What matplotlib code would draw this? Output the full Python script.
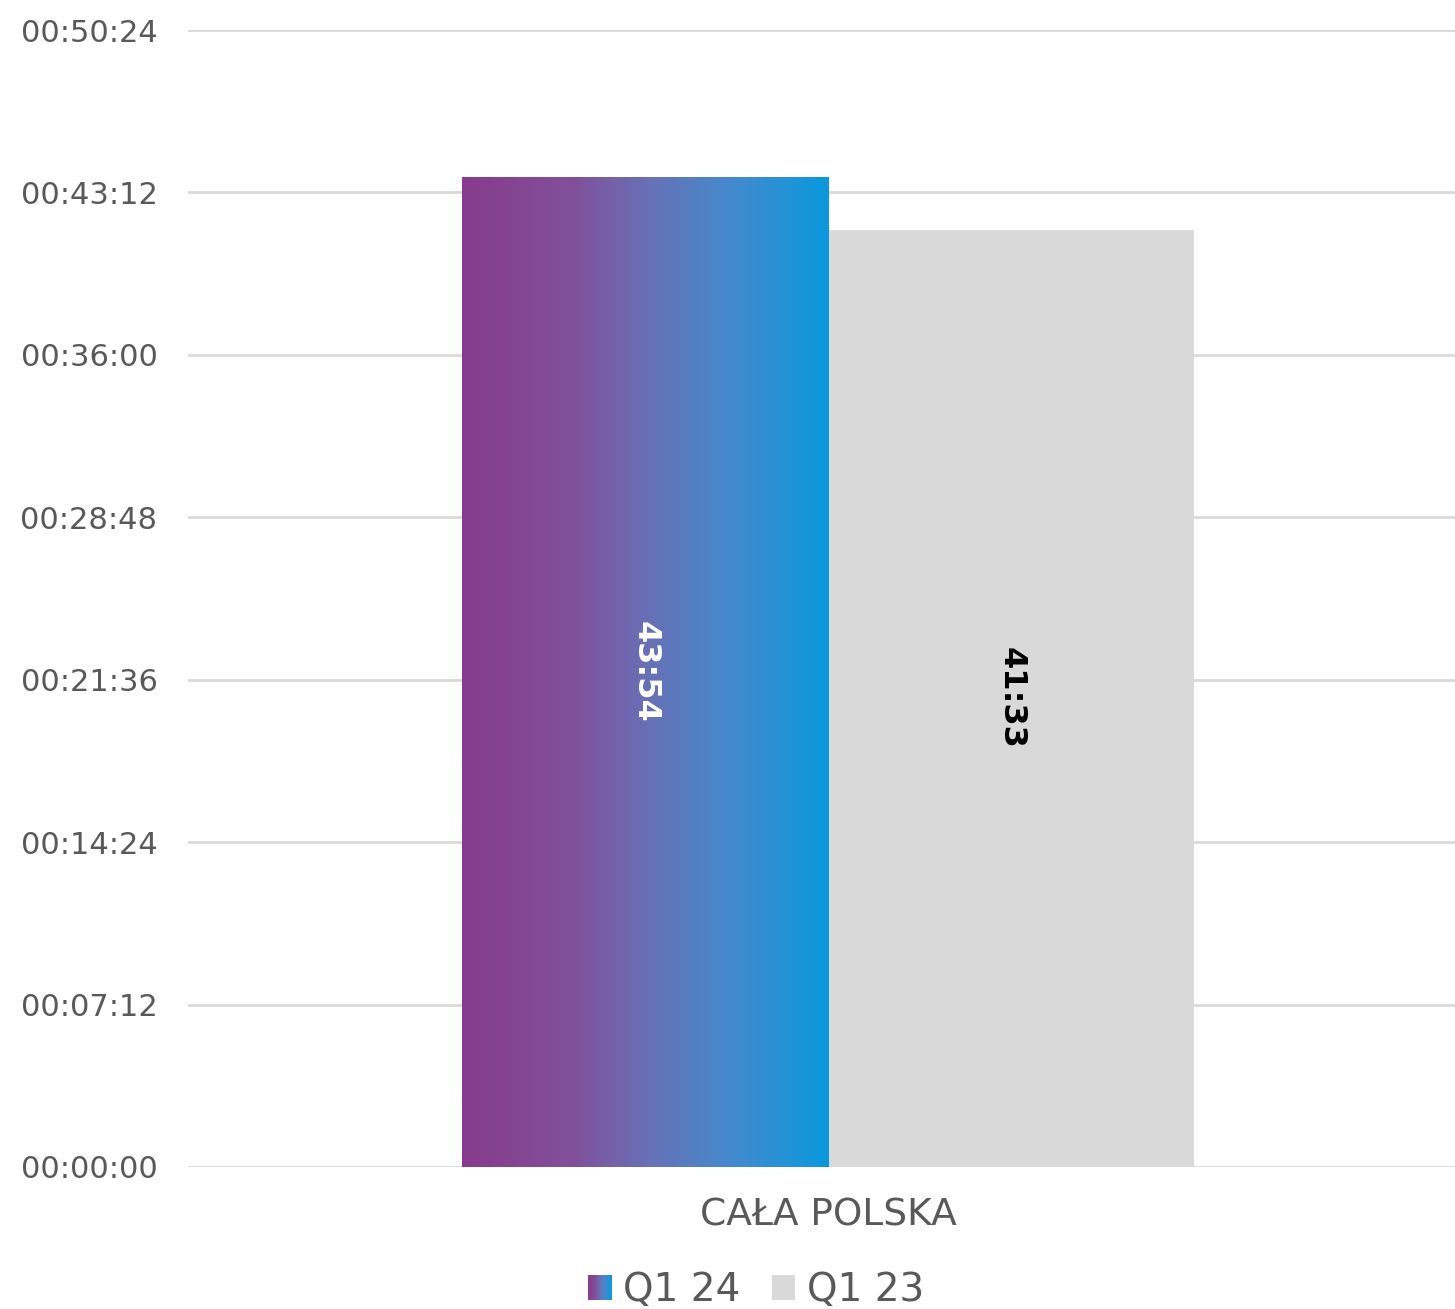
import numpy as np
import matplotlib.pyplot as plt
from matplotlib.colors import LinearSegmentedColormap
from matplotlib.ticker import MultipleLocator, FuncFormatter
from matplotlib.patches import Rectangle
from matplotlib.legend_handler import HandlerBase

# data (durations in seconds)
categories = ['CAŁA POLSKA']
series = ['Q1 24', 'Q1 23']
q1_24 = [43 * 60 + 54]
q1_23 = [41 * 60 + 33]

grad = LinearSegmentedColormap.from_list('grad', [
    (0.0, '#863C8D'), (0.3, '#81509A'), (0.5, '#6A6FB5'),
    (0.72, '#4689CB'), (1.0, '#0A98DC')])
grey = '#D9D9D9'
text_col = '#595959'


def hms(v, pos=None):
    v = int(round(v))
    return '%02d:%02d:%02d' % (v // 3600, (v % 3600) // 60, v % 60)


def ms(v):
    v = int(round(v))
    return '%d:%02d' % (v // 60, v % 60)


class GradientHandler(HandlerBase):
    def create_artists(self, legend, orig_handle, xdescent, ydescent,
                       width, height, fontsize, trans):
        n = 24
        out = []
        for i in range(n):
            r = Rectangle((-xdescent + width * i / n, -ydescent), width / n + 0.05, height,
                          facecolor=grad(i / (n - 1)), edgecolor='none', transform=trans)
            out.append(r)
        return out


fig = plt.figure(figsize=(14.55, 13.09), dpi=100)
ax = fig.add_axes([188 / 1455, 142 / 1309, 1 - 188 / 1455, (1167 - 30) / 1309])

x = np.arange(len(categories))
w = 0.286
b1 = ax.bar(x - w / 2, q1_24, w, color='none', edgecolor='none', zorder=3)
b2 = ax.bar(x + w / 2, q1_23, w, color=grey, edgecolor='none', zorder=3)

# gradient fill for Q1 24
for rect in b1:
    x0, y0 = rect.get_x(), rect.get_y()
    im = ax.imshow(np.linspace(0, 1, 256).reshape(1, -1), cmap=grad, aspect='auto',
                   extent=[x0, x0 + rect.get_width(), y0, y0 + rect.get_height()], zorder=3)
    im.set_clip_path(rect)

for rect, v in zip(b1, q1_24):
    ax.text(rect.get_x() + rect.get_width() / 2, v / 2, ms(v), rotation=270,
            ha='center', va='center', color='white', fontsize=23, fontweight='bold', zorder=5)
for rect, v in zip(b2, q1_23):
    ax.text(rect.get_x() + rect.get_width() / 2, v / 2, ms(v), rotation=270,
            ha='center', va='center', color='black', fontsize=23, fontweight='bold', zorder=5)

ax.set_xlim(-0.5, 0.5 - 13 / 1280)
ax.set_ylim(0, 3024)
ax.yaxis.set_major_locator(MultipleLocator(432))
ax.yaxis.set_major_formatter(FuncFormatter(hms))
ax.set_xticks(x)
ax.set_xticklabels(categories)
ax.tick_params(axis='x', length=0, labelsize=27, labelcolor=text_col, pad=22)
ax.tick_params(axis='y', length=0, labelsize=22, labelcolor=text_col, pad=22)
ax.grid(axis='y', color=grey, lw=2, zorder=0)
ax.set_axisbelow(True)
for s in ax.spines.values():
    s.set_visible(False)

handles = [Rectangle((0, 0), 1, 1), Rectangle((0, 0), 1, 1, facecolor=grey)]
fig.legend(handles, series, loc='center', bbox_to_anchor=(756 / 1455, 1 - 1290 / 1309),
           ncol=2, frameon=False, fontsize=28, labelcolor=text_col,
           handler_map={handles[0]: GradientHandler()},
           handlelength=0.6, handleheight=0.6, handletextpad=0.3, columnspacing=0.8)

fig.savefig('out.png', dpi=100)
